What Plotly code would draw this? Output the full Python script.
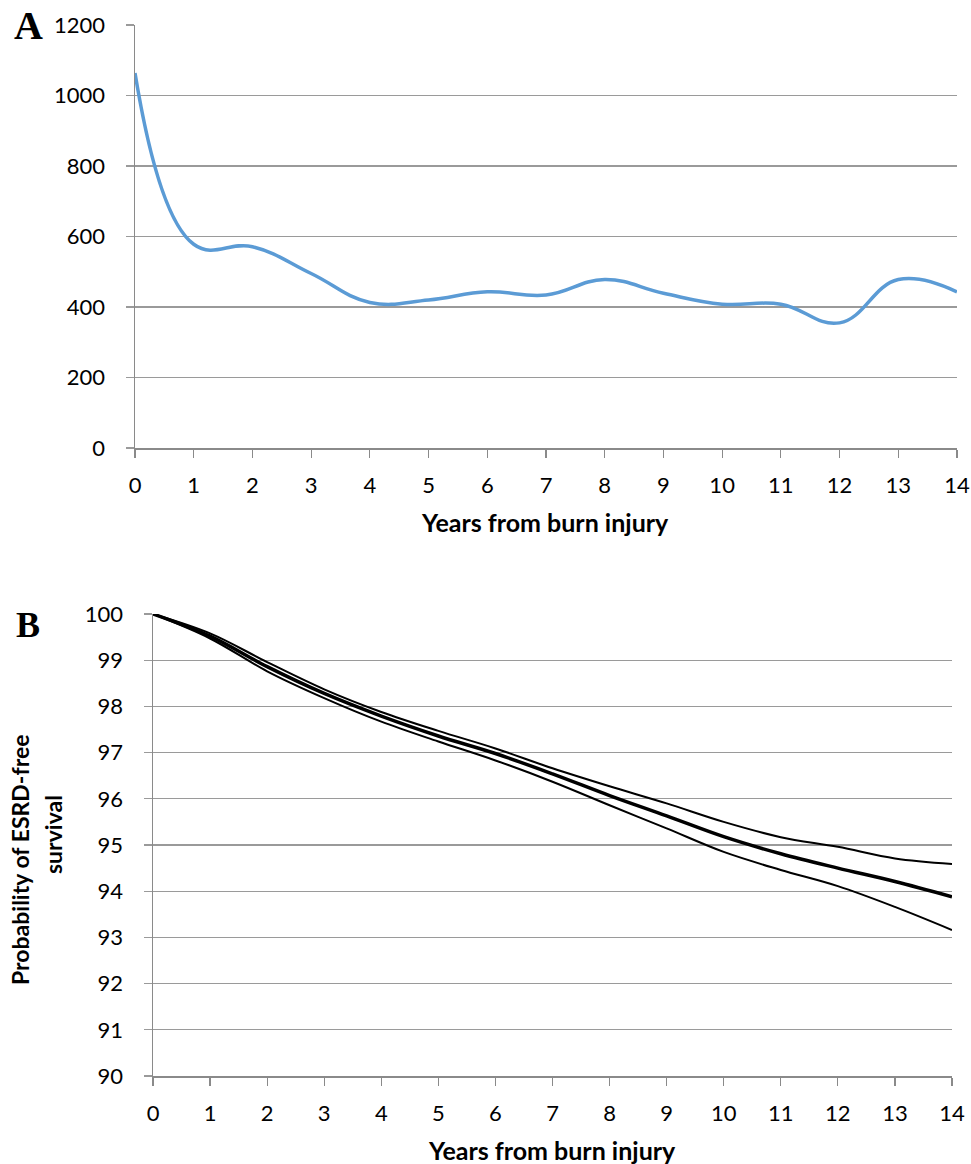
import plotly.graph_objects as go

# ---------------- data ----------------
years = list(range(0, 15))
panel_a_values = [1064, 578, 571, 495, 413, 420, 443, 434, 478, 439, 408, 408, 355, 478, 443]

panel_b_mid = [100.0, 99.52, 98.86, 98.28, 97.79, 97.36, 96.98, 96.54, 96.07, 95.63, 95.18, 94.81, 94.50, 94.21, 93.88]
panel_b_upper = [100.0, 99.58, 98.96, 98.37, 97.88, 97.47, 97.09, 96.66, 96.27, 95.90, 95.50, 95.17, 94.96, 94.71, 94.59]
panel_b_lower = [100.0, 99.47, 98.76, 98.18, 97.67, 97.24, 96.83, 96.37, 95.86, 95.36, 94.85, 94.46, 94.11, 93.66, 93.16]

a_yticks = [0, 200, 400, 600, 800, 1000, 1200]
b_yticks = list(range(90, 101))
x_title = "Years from burn injury"
b_ytitle_lines = ["Probability of ESRD-free", "survival"]

# ---------------- figure ----------------
W, H = 971, 1164
FONT = "Lato"
GRID = "#9a9a9a"
AXIS = "#8a8a8a"

fig = go.Figure()

fig.add_trace(go.Scatter(
    x=years, y=panel_a_values, mode="lines",
    line=dict(color="#5B9BD5", width=3.5, shape="spline", smoothing=1.2),
    xaxis="x", yaxis="y", showlegend=False, hoverinfo="skip"))

for vals, w in [(panel_b_upper, 2), (panel_b_lower, 2), (panel_b_mid, 3.5)]:
    fig.add_trace(go.Scatter(
        x=years, y=vals, mode="lines",
        line=dict(color="black", width=w, shape="spline", smoothing=1.0),
        xaxis="x2", yaxis="y2", showlegend=False, hoverinfo="skip"))

def px_x(p):
    return p / W

def px_y(p):
    return 1 - p / H

common_x = dict(range=[0, 14], tickmode="array", tickvals=years, ticktext=[str(v) for v in years],
                showgrid=False, showline=True, linecolor=AXIS, linewidth=1.5,
                ticks="outside", ticklen=8, tickwidth=1.2, tickcolor=AXIS,
                tickfont=dict(family=FONT, size=22, color="black"), ticklabelstandoff=9,
                zeroline=False, fixedrange=True, automargin=False)
common_y = dict(showgrid=True, gridcolor=GRID, gridwidth=1.3, showline=True, linecolor=AXIS, linewidth=1.5,
                ticks="outside", ticklen=8, tickwidth=1.3, tickcolor=GRID,
                tickfont=dict(family=FONT, size=22, color="black"), ticklabelstandoff=16,
                zeroline=False, fixedrange=True, automargin=False)

fig.update_layout(
    width=W, height=H,
    margin=dict(l=0, r=0, t=0, b=0, pad=0, autoexpand=False),
    paper_bgcolor="white", plot_bgcolor="white",
    xaxis=dict(domain=[px_x(135), px_x(957)], anchor="y", **common_x),
    yaxis=dict(domain=[px_y(448), px_y(25)], anchor="x", range=[0, 1200],
               tickvals=a_yticks, **common_y),
    xaxis2=dict(domain=[px_x(153), px_x(952)], anchor="y2", **common_x),
    yaxis2=dict(domain=[px_y(1076), px_y(614)], anchor="x2", range=[90, 100],
                tickvals=b_yticks, **common_y),
)

annos = [
    dict(text="<b>A</b>", x=px_x(28), y=px_y(25), font=dict(family="Liberation Serif", size=40, color="black")),
    dict(text="<b>B</b>", x=px_x(28), y=px_y(625), font=dict(family="Liberation Serif", size=36, color="black")),
    dict(text="<b>" + x_title + "</b>", x=px_x(545), y=px_y(522), font=dict(family=FONT, size=25, color="black")),
    dict(text="<b>" + x_title + "</b>", x=px_x(552), y=px_y(1150), font=dict(family=FONT, size=25, color="black")),
    dict(text="<b>" + b_ytitle_lines[0] + "</b>", x=px_x(20), y=px_y(860), textangle=-90,
         font=dict(family=FONT, size=23, color="black")),
    dict(text="<b>" + b_ytitle_lines[1] + "</b>", x=px_x(53), y=px_y(835), textangle=-90,
         font=dict(family=FONT, size=23, color="black")),
]
for a in annos:
    fig.add_annotation(xref="paper", yref="paper", showarrow=False,
                       xanchor="center", yanchor="middle", **a)

fig.write_html(
    "out.html",
    config={"displayModeBar": False, "staticPlot": True},
    post_script="document.body.style.margin='0';document.body.style.padding='0';"
                "document.body.style.overflow='hidden';",
)
